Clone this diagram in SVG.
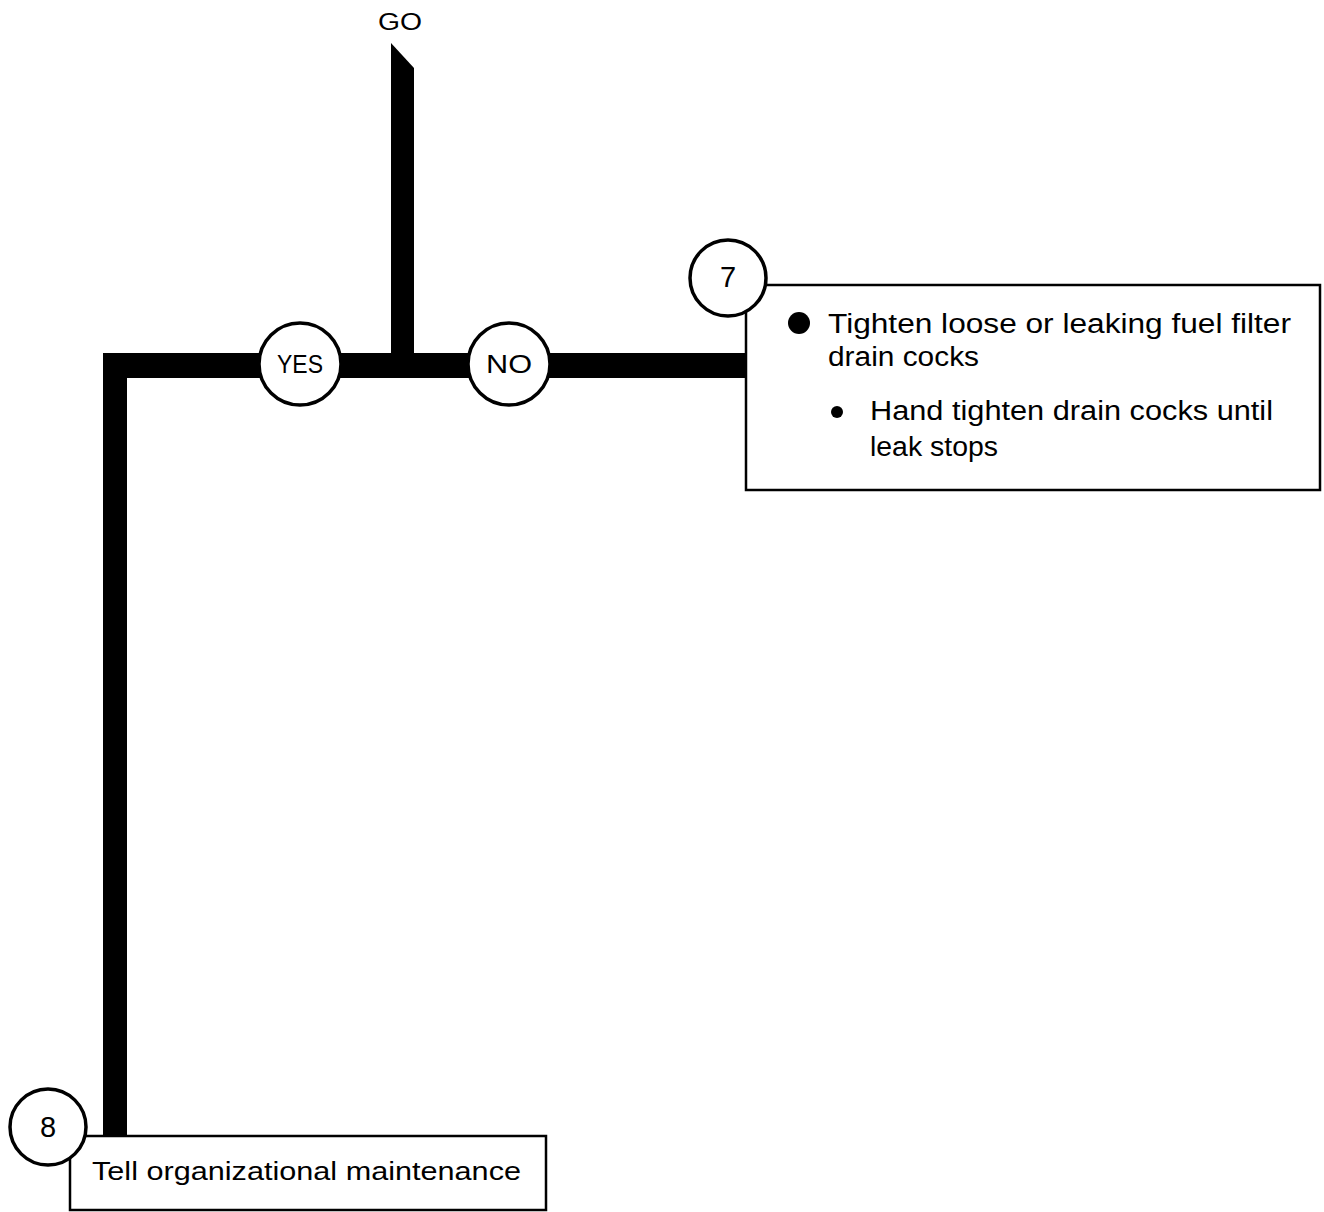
<svg xmlns="http://www.w3.org/2000/svg" width="1324" height="1212" viewBox="0 0 1324 1212">
<style>
.t{font-family:"Liberation Sans","DejaVu Sans",sans-serif;fill:#000}
.c{fill:#fff;stroke:#000;stroke-width:3.5}
.b{fill:#fff;stroke:#000;stroke-width:2.5}
</style>
<rect width="1324" height="1212" fill="#fff"/>
<text class="t" x="400" y="30" font-size="23" text-anchor="middle" textLength="44" lengthAdjust="spacingAndGlyphs">GO</text>
<g id="connectors" fill="#000">
<polygon points="391,43 414,68 414,353 391,353"/>
<polygon points="103,1136 103,353 747,353 747,378 127,378 127,1136"/>
</g>
<g id="node7">
<rect class="b" x="746" y="285" width="574" height="205"/>
<circle class="c" cx="728" cy="278" r="38"/>
<text class="t" x="728" y="287" font-size="29" text-anchor="middle">7</text>
<circle cx="799" cy="323" r="11" fill="#000"/>
<text class="t" x="828" y="333" font-size="27" textLength="463" lengthAdjust="spacingAndGlyphs">Tighten loose or leaking fuel filter</text>
<text class="t" x="828" y="366" font-size="27" textLength="151" lengthAdjust="spacingAndGlyphs">drain cocks</text>
<circle cx="837" cy="412" r="6" fill="#000"/>
<text class="t" x="870" y="420" font-size="27" textLength="403" lengthAdjust="spacingAndGlyphs">Hand tighten drain cocks until</text>
<text class="t" x="870" y="456" font-size="27" textLength="128" lengthAdjust="spacingAndGlyphs">leak stops</text>
</g>
<g id="yes">
<circle class="c" cx="300" cy="364" r="41"/>
<text class="t" x="300" y="373" font-size="26" text-anchor="middle" textLength="46" lengthAdjust="spacingAndGlyphs">YES</text>
</g>
<g id="no">
<circle class="c" cx="509" cy="364" r="41"/>
<text class="t" x="509" y="373" font-size="26" text-anchor="middle" textLength="46" lengthAdjust="spacingAndGlyphs">NO</text>
</g>
<g id="node8">
<rect class="b" x="70" y="1136" width="476" height="74"/>
<circle class="c" cx="48" cy="1127" r="38"/>
<text class="t" x="48" y="1137" font-size="29" text-anchor="middle">8</text>
<text class="t" x="92" y="1180" font-size="25" textLength="429" lengthAdjust="spacingAndGlyphs">Tell organizational maintenance</text>
</g>
</svg>
